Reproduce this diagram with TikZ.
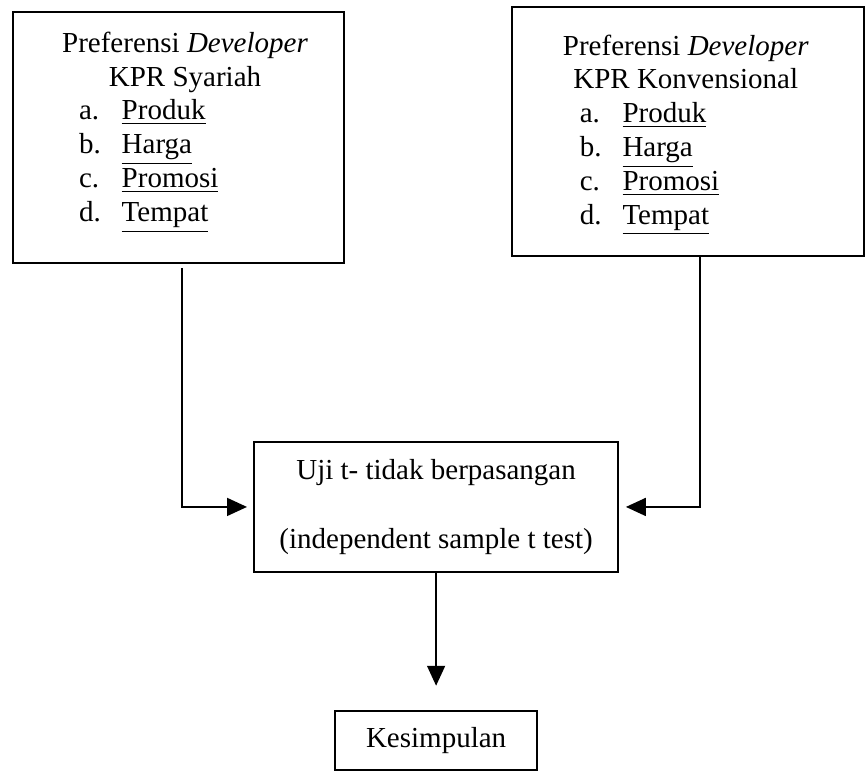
\documentclass[tikz,border=0pt]{standalone}
\usepackage{fontspec}
\setmainfont{Liberation Serif}
\usepackage{tikz}
\usetikzlibrary{arrows.meta,positioning}

\newcommand{\butir}[2]{\makebox[3.58cm][l]{\hspace{0.25cm}\makebox[0.62cm][l]{#1}\underline{#2}}}

\begin{document}
\begin{tikzpicture}[
    font=\fontsize{12}{14}\selectfont,
    kotak/.style={draw, line width=0.8pt, inner sep=0pt},
    panah/.style={-{Triangle[length=2.9mm, width=2.6mm]}, line width=0.8pt}
  ]
  \useasboundingbox (0, 0) rectangle (12.59, 11.25);

  % Boxes
  \node[kotak, minimum width=4.81cm, minimum height=3.64cm] (Syariah) at (2.60, 9.25) {};
  \node[kotak, minimum width=5.12cm, minimum height=3.62cm] (Konv) at (10.00, 9.34) {};
  \node[kotak, minimum width=5.29cm, minimum height=1.89cm, align=center, font=\fontsize{12}{28.5}\selectfont] (Uji) at (6.34, 3.88) {Uji t- tidak berpasangan\\(independent sample t test)};
  \node[kotak, minimum width=2.94cm, minimum height=0.85cm, below=2.0cm of Uji] (Hasil) {Kesimpulan};

  % Text inside the top boxes
  \node[align=center, inner sep=0pt, below=0.29cm of Syariah.north, xshift=0.09cm] (SyariahTxt) {Preferensi \textit{Developer}\\KPR Syariah\\\butir{a.}{Produk}\\\butir{b.}{Harga}\\\butir{c.}{Promosi}\\\butir{d.}{Tempat}};
  \node[align=center, inner sep=0pt, below=0.41cm of Konv.north, xshift=-0.03cm] (KonvTxt) {Preferensi \textit{Developer}\\KPR Konvensional\\\butir{a.}{Produk}\\\butir{b.}{Harga}\\\butir{c.}{Promosi}\\\butir{d.}{Tempat}};

  % Arrows
  \draw[panah, shorten <=0.06cm, shorten >=0.09cm] ([xshift=0.04cm]Syariah.south) |- (Uji.west);
  \draw[panah, shorten >=0.1cm] ([xshift=0.17cm]Konv.south) |- (Uji.east);
  \draw[panah, shorten >=0.36cm] (Uji) -- (Hasil);
\end{tikzpicture}
\end{document}
